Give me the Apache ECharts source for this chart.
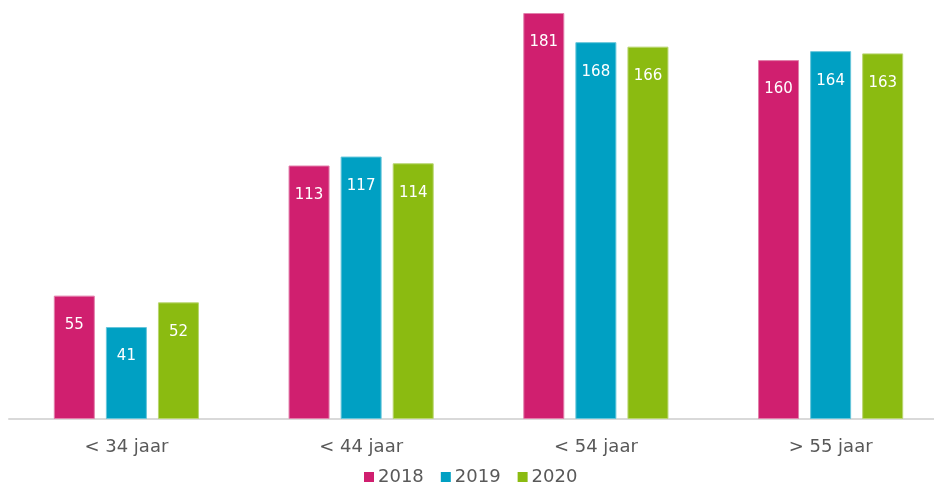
<!DOCTYPE html>
<html>
<head>
<meta charset="utf-8">
<script src="https://cdn.jsdelivr.net/npm/echarts@6/dist/echarts.min.js"></script>
<style>
  html, body { margin: 0; padding: 0; background: #fff; overflow: hidden; }
  #chart { width: 952px; height: 492px; }
</style>
</head>
<body>
<div id="chart"></div>
<script>
  // leeftijdsgroepen en aantallen per jaar
  var categories = ['< 34 jaar', '< 44 jaar', '< 54 jaar', '> 55 jaar'];
  var years = ['2018', '2019', '2020'];
  var data2018 = [55, 113, 181, 160];
  var data2019 = [41, 117, 168, 164];
  var data2020 = [52, 114, 166, 163];
  var colors = ['#D01F6F', '#00A0C3', '#8BBB11'];
  var borders = ['#E27FAB', '#66C6DB', '#B9D670'];

  var font = 'Verdana, "DejaVu Sans", sans-serif';
  var chart = echarts.init(document.getElementById('chart'));

  function makeSeries(name, values, i) {
    return {
      name: name,
      type: 'bar',
      data: values,
      barWidth: 41,
      barGap: '27%',
      itemStyle: {
        color: colors[i],
        borderColor: borders[i],
        borderWidth: 1
      },
      label: {
        show: true,
        position: 'insideTop',
        distance: 22,
        color: '#fff',
        fontSize: 15,
        fontFamily: font
      }
    };
  }

  chart.setOption({
    animation: false,
    grid: { left: 9, width: 939, top: 13, height: 406 },
    legend: {
      data: years,
      bottom: 1,
      left: 359,
      itemWidth: 10,
      itemHeight: 10,
      itemGap: 17,
      icon: 'rect',
      itemStyle: { borderWidth: 0 },
      textStyle: { color: '#595959', fontSize: 18, fontFamily: font, padding: [0, 0, 0, -1] }
    },
    xAxis: {
      type: 'category',
      data: categories,
      axisLine: { lineStyle: { color: '#D9D9D9', width: 2 } },
      axisTick: { show: false },
      axisLabel: { color: '#595959', fontSize: 18, fontFamily: font, margin: 19 }
    },
    yAxis: {
      type: 'value',
      min: 0,
      max: 181,
      show: false,
      splitLine: { show: false }
    },
    series: [
      makeSeries(years[0], data2018, 0),
      makeSeries(years[1], data2019, 1),
      makeSeries(years[2], data2020, 2)
    ]
  });
</script>
</body>
</html>
